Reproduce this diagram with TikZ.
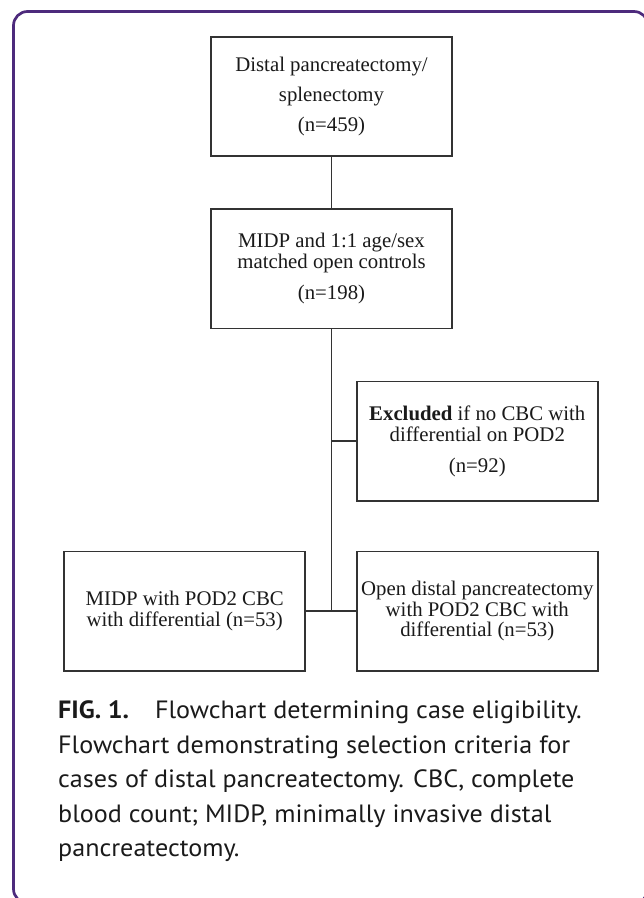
\documentclass[tikz,border=0pt]{standalone}
\usepackage{fontspec}
\setmainfont{Liberation Serif}
\newfontfamily\capfont{PT Sans}[FakeStretch=1.045]
\usepackage{tikz}
\usetikzlibrary{positioning}
\definecolor{plum}{HTML}{4D2A7C}
\definecolor{inkd}{HTML}{333333}
\definecolor{inkc}{HTML}{1A1A1A}
\tikzset{
  box/.style={rectangle, draw=inkd, fill=white, line width=1.6pt, align=center, inner sep=2pt,
              minimum width=241pt, minimum height=119.5pt, text=inkc,
              font=\fontsize{20.8}{20.5}\selectfont},
  fl/.style={draw=inkd, line width=1.6pt},
  border/.style={draw=plum, line width=2.7pt, rounded corners=14pt},
  capt/.style={anchor=north west, inner sep=0pt, align=left, text=inkc,
               font=\capfont\fontsize{25}{34.5}\selectfont},
}

\begin{document}
\begin{tikzpicture}[x=1pt, y=-1pt, node distance=51pt]
  \useasboundingbox (0,0) rectangle (644,898);
  \clip (0,0) rectangle (644,898);
  \draw[border] (13.5,11.5) rectangle (648,903);
  \node[box] (s1) at (331.5,96.5) {Distal pancreatectomy/\\[9.5pt] splenectomy\\[9.5pt] (n=459)};
  \node[box, below=of s1] (s2) {MIDP and 1:1 age/sex\\ matched open controls\\[10.5pt] (n=198)};
  \coordinate[below=112pt of s2] (j1);
  \coordinate[below=170pt of j1] (j2);
  \node[box, right=24.5pt of j1] (ex) {\textbf{Excluded} if no CBC with\\ differential on POD2\\[10.5pt] (n=92)};
  \node[box, left=25.5pt of j2] (md) {MIDP with POD2 CBC\\ with differential (n=53)};
  \node[box, right=24.5pt of j2] (op) {Open distal pancreatectomy\\ with POD2 CBC with\\ differential (n=53)};
  \draw[fl] (s1)--(s2); \draw[fl] (s2)--(j2);
  \draw[fl] (j1)--(ex); \draw[fl] (md)--(op);
  \node[capt] (cap) at (58,700.5) {\textbf{FIG. 1.}\hspace{26pt}Flowchart determining case eligibility.\\
    Flowchart demonstrating selection criteria for\\
    cases of distal pancreatectomy. CBC, complete\\
    blood count; MIDP, minimally invasive distal\\
    pancreatectomy.};
\end{tikzpicture}
\end{document}
